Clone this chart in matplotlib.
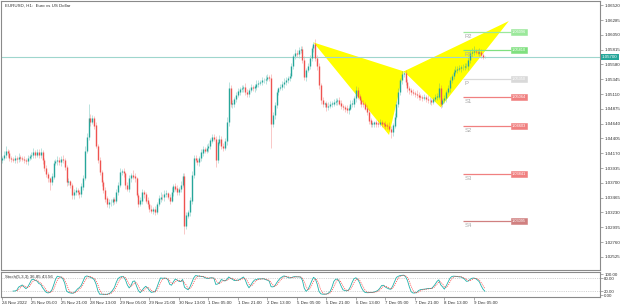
import numpy as np
import pandas as pd
import matplotlib.pyplot as plt

# ── Data (EURUSD H1) ─────────────────────────────────────────────────────────
first_open = 1.0406
closes = [
    1.0409, 1.0414, 1.0421, 1.0417, 1.0409, 1.0408, 1.0406, 1.0409, 1.0408, 1.0411,
    1.0409, 1.0408, 1.0406, 1.0404, 1.0409, 1.0412, 1.0414, 1.0418, 1.0415, 1.0418,
    1.0414, 1.0418, 1.0406, 1.0393, 1.0384, 1.0377, 1.0371, 1.0380, 1.0401, 1.0404,
    1.0406, 1.0403, 1.0408, 1.0406, 1.0395, 1.0371, 1.0372, 1.0366, 1.0350, 1.0355,
    1.0358, 1.0355, 1.0352, 1.0364, 1.0377, 1.0421, 1.0443, 1.0472, 1.0467, 1.0472,
    1.0461, 1.0429, 1.0406, 1.0387, 1.0371, 1.0358, 1.0345, 1.0336, 1.0339, 1.0340,
    1.0344, 1.0342, 1.0355, 1.0366, 1.0387, 1.0388, 1.0385, 1.0366, 1.0361, 1.0377,
    1.0382, 1.0380, 1.0377, 1.0350, 1.0337, 1.0342, 1.0355, 1.0352, 1.0342, 1.0336,
    1.0329, 1.0326, 1.0328, 1.0324, 1.0336, 1.0345, 1.0348, 1.0347, 1.0352, 1.0353,
    1.0348, 1.0342, 1.0355, 1.0364, 1.0361, 1.0356, 1.0360, 1.0366, 1.0380, 1.0302,
    1.0318, 1.0323, 1.0342, 1.0382, 1.0409, 1.0406, 1.0403, 1.0409, 1.0418, 1.0423,
    1.0421, 1.0425, 1.0428, 1.0437, 1.0442, 1.0440, 1.0406, 1.0434, 1.0440, 1.0429,
    1.0426, 1.0436, 1.0466, 1.0520, 1.0495, 1.0496, 1.0503, 1.0509, 1.0515, 1.0519,
    1.0520, 1.0522, 1.0514, 1.0511, 1.0517, 1.0522, 1.0520, 1.0523, 1.0527, 1.0528,
    1.0530, 1.0533, 1.0533, 1.0535, 1.0538, 1.0536, 1.0464, 1.0477, 1.0493, 1.0514,
    1.0520, 1.0522, 1.0527, 1.0530, 1.0533, 1.0536, 1.0539, 1.0555, 1.0571, 1.0576,
    1.0574, 1.0581, 1.0582, 1.0565, 1.0538, 1.0549, 1.0555, 1.0568, 1.0584, 1.0590,
    1.0568, 1.0555, 1.0525, 1.0501, 1.0495, 1.0496, 1.0490, 1.0492, 1.0495, 1.0496,
    1.0498, 1.0500, 1.0501, 1.0496, 1.0492, 1.0490, 1.0488, 1.0485, 1.0488, 1.0495,
    1.0496, 1.0504, 1.0517, 1.0507, 1.0501, 1.0496, 1.0495, 1.0488, 1.0482, 1.0469,
    1.0463, 1.0464, 1.0466, 1.0464, 1.0463, 1.0466, 1.0464, 1.0463, 1.0461, 1.0460,
    1.0456, 1.0450, 1.0461, 1.0474, 1.0495, 1.0514, 1.0533, 1.0543, 1.0544, 1.0530,
    1.0520, 1.0517, 1.0514, 1.0512, 1.0511, 1.0509, 1.0507, 1.0506, 1.0504, 1.0506,
    1.0503, 1.0501, 1.0501, 1.0499, 1.0503, 1.0506, 1.0507, 1.0520, 1.0496, 1.0501,
    1.0504, 1.0514, 1.0520, 1.0533, 1.0539, 1.0546, 1.0549, 1.0551, 1.0552, 1.0554,
    1.0554, 1.0555, 1.0555, 1.0565, 1.0576, 1.0578, 1.0579, 1.0578, 1.0576, 1.0578,
    1.0573, 1.0570, 1.0570,
]
# upper / lower wick length beyond the body, in pips
wick_up = [
    4, 6, 8, 3, 5, 4, 3, 5, 4, 6, 3, 4, 5, 3, 6, 4, 5, 7, 4, 6,
    5, 7, 4, 3, 5, 4, 3, 6, 5, 4, 6, 5, 4, 7, 3, 4, 5, 3, 4, 6,
    5, 4, 3, 6, 5, 8, 6, 24, 7, 5, 4, 6, 3, 5, 4, 3, 5, 4, 6, 5,
    4, 3, 6, 5, 7, 4, 5, 3, 6, 5, 4, 8, 5, 3, 4, 6, 5, 4, 3, 5,
    4, 6, 3, 5, 4, 5, 7, 4, 6, 5, 3, 5, 8, 4, 6, 5, 4, 7, 6, 5,
    6, 4, 5, 7, 6, 5, 4, 3, 6, 5, 4, 7, 5, 4, 6, 5, 4, 5, 6, 4,
    5, 6, 8, 10, 6, 5, 4, 5, 6, 4, 5, 4, 6, 5, 4, 5, 3, 4, 6, 5,
    4, 5, 3, 6, 5, 4, 7, 6, 5, 4, 3, 5, 4, 6, 5, 4, 5, 6, 4, 7,
    5, 4, 6, 5, 7, 4, 6, 5, 4, 3, 8, 5, 6, 4, 5, 3, 4, 6, 5, 4,
    5, 4, 3, 6, 5, 4, 3, 5, 4, 6, 5, 4, 7, 5, 4, 3, 5, 4, 6, 5,
    4, 5, 3, 4, 6, 5, 4, 3, 5, 4, 6, 5, 4, 7, 5, 6, 4, 5, 4, 6,
    5, 4, 3, 5, 4, 6, 5, 4, 3, 5, 4, 6, 5, 4, 3, 5, 6, 8, 5, 4,
    5, 4, 6, 5, 4, 5, 6, 4, 5, 3, 4, 6, 5, 7, 5, 6, 8, 4, 5, 6,
    4, 3, 2,
]
wick_dn = [
    5, 3, 4, 6, 4, 5, 3, 4, 6, 5, 4, 3, 5, 4, 6, 3, 4, 5, 6, 4,
    4, 5, 6, 4, 5, 6, 13, 5, 4, 3, 5, 4, 6, 5, 4, 6, 5, 4, 5, 6,
    4, 5, 6, 4, 5, 3, 4, 5, 6, 4, 5, 3, 4, 5, 6, 4, 5, 4, 6, 5,
    5, 6, 4, 5, 3, 4, 5, 6, 4, 5, 6, 4, 5, 3, 6, 4, 5, 6, 4, 5,
    5, 4, 6, 5, 4, 3, 5, 4, 6, 5, 4, 5, 3, 6, 4, 5, 6, 4, 3, 13,
    5, 4, 6, 5, 4, 3, 5, 6, 4, 5, 3, 4, 6, 5, 4, 3, 11, 5, 4, 6,
    5, 4, 6, 5, 4, 6, 5, 4, 3, 5, 4, 6, 5, 4, 5, 3, 4, 6, 5, 4,
    3, 5, 4, 6, 4, 5, 38, 6, 5, 4, 5, 3, 4, 6, 5, 4, 5, 3, 4, 5,
    4, 6, 5, 4, 5, 6, 3, 4, 5, 6, 4, 5, 6, 5, 4, 5, 6, 4, 3, 5,
    4, 5, 6, 3, 4, 5, 6, 4, 5, 3, 4, 6, 5, 4, 5, 6, 4, 3, 5, 6,
    5, 4, 6, 5, 4, 3, 5, 4, 6, 5, 4, 8, 5, 4, 3, 5, 4, 6, 5, 4,
    5, 6, 4, 3, 5, 4, 6, 5, 4, 3, 5, 4, 6, 5, 4, 3, 5, 4, 7, 5,
    4, 5, 3, 6, 5, 4, 3, 5, 4, 6, 5, 4, 3, 5, 4, 6, 5, 4, 3, 5,
    4, 3, 2,
]

time_labels = ["24 Nov 2022", "25 Nov 05:00", "25 Nov 21:00", "28 Nov 13:00",
               "29 Nov 05:00", "29 Nov 21:00", "30 Nov 13:00", "1 Dec 05:00",
               "1 Dec 21:00", "2 Dec 13:00", "5 Dec 05:00", "5 Dec 21:00",
               "6 Dec 13:00", "7 Dec 05:00", "7 Dec 21:00", "8 Dec 13:00",
               "9 Dec 05:00"]
time_label_bars = list(range(0, 257, 16))

price_ticks = [1.06520, 1.06285, 1.06050, 1.05815, 1.05580, 1.05345, 1.05110,
               1.04875, 1.04640, 1.04405, 1.04170, 1.03935, 1.03700, 1.03465,
               1.03230, 1.02995, 1.02760, 1.02525]

pivot_names = ["R2", "R1", "P", "S1", "S2", "S3", "S4"]
pivot_values = [1.06096, 1.05810, 1.05350, 1.05064, 1.04603, 1.03841, 1.03095]

# harmonic pattern points X, A, B, C, D (bar index, price)
pattern_bars = [169, 210, 218, 238, 275]
pattern_prices = [1.0593, 1.0446, 1.0547, 1.0490, 1.0627]

bid_price = 1.05700

# ── Derived OHLC + stochastic ────────────────────────────────────────────────
c = np.array(closes)
o = np.concatenate([[first_open], c[:-1]])
h = np.maximum(o, c) + np.array(wick_up) * 0.0001
l = np.minimum(o, c) - np.array(wick_dn) * 0.0001
bars = np.arange(len(c))

hh = pd.Series(h).rolling(5).max()
ll = pd.Series(l).rolling(5).min()
cs = pd.Series(c)
stoch_main = 100 * (cs - ll).rolling(3).sum() / (hh - ll).rolling(3).sum()
stoch_sig = stoch_main.rolling(3).mean()

# ── Figure ───────────────────────────────────────────────────────────────────
W, H = 625, 307
fig = plt.figure(figsize=(W / 100, H / 100), dpi=100, facecolor="white")
plt.rcParams["font.family"] = ["Liberation Sans", "DejaVu Sans"]

grey = "#8a8a8a"
txt = "#303030"
fs = 3.2
bull = "#26a69a"
bear = "#ef5350"


def px_axes(x0, y0, x1, y1):
    return fig.add_axes([x0 / W, 1 - y1 / H, (x1 - x0) / W, (y1 - y0) / H])


ax = px_axes(1, 1, 600, 270)
sx = px_axes(1, 272, 600, 297)

bar_px = 1.84
xmin = -1 / bar_px
xmax = 598 / bar_px + xmin
for a in (ax, sx):
    a.set_xlim(xmin, xmax)
    a.set_facecolor("white")
    for s in a.spines.values():
        s.set_color(grey)
        s.set_linewidth(0.8)
    a.yaxis.tick_right()
    a.tick_params(axis="y", length=2, width=0.5, color=grey, labelsize=fs,
                  labelcolor=txt, pad=1)

# price scale
ppx = 0.0001588
ax.set_ylim(1.06604 - 270 * ppx, 1.06604 - 1 * ppx)
ax.set_yticks(price_ticks)
ax.set_yticklabels([f"{v:.5f}" for v in price_ticks])
ax.set_xticks([])

# yellow harmonic pattern
px_, py_ = pattern_bars, pattern_prices
ax.fill([px_[0], px_[1], px_[2]], [py_[0], py_[1], py_[2]],
        color="#ffff00", lw=0, zorder=1)
ax.fill([px_[2], px_[3], px_[4]], [py_[2], py_[3], py_[4]],
        color="#ffff00", lw=0, zorder=1)

# candles
cols = np.where(c >= o, bull, bear)
ax.vlines(bars, l, h, colors=cols, lw=0.5, alpha=0.45, zorder=2)
ax.vlines(bars, np.minimum(o, c), np.maximum(o, c) + 0.00003,
          colors=cols, lw=1.0, zorder=3)

# bid line + label
ax.axhline(bid_price, color="#9fd6cd", lw=0.8, zorder=2.5)
ax.text(1.003, bid_price, f"{bid_price:.5f}", transform=ax.get_yaxis_transform(),
        fontsize=fs, color="white", va="center", ha="left", clip_on=False,
        bbox=dict(boxstyle="square,pad=0.25", fc="#26a69a", ec="none"), zorder=6)

# pivot levels
pcol = {"R2": "#9be89b", "R1": "#7fe07f", "P": "#d9d9d9",
        "S1": "#f08080", "S2": "#f08080", "S3": "#f08080", "S4": "#d08080"}
p_start, p_end = 250.3, 276.0
for name, val in zip(pivot_names, pivot_values):
    colr = pcol[name]
    ax.hlines(val, p_start, p_end, color=colr, lw=0.9, zorder=4)
    ax.text(p_start + 0.5, val - 0.0003, name, fontsize=4.2, color="#a8a8a8",
            va="top", ha="left", zorder=5)
    ax.text(p_end + 0.6, val, f"{val:.5f}", fontsize=fs - 0.4, color="white",
            va="center", ha="left", zorder=5,
            bbox=dict(boxstyle="square,pad=0.25", fc=colr, ec=colr, lw=0.4))

ax.text(2.5 / bar_px, 1.06604 - 6 * ppx, "EURUSD, H1:  Euro vs US Dollar",
        fontsize=fs, color=txt, va="center", ha="left")

# stochastic panel
sx.set_ylim(-8, 110)
sx.plot(bars, stoch_main, color="#20b2aa", lw=0.6, zorder=3)
sx.plot(bars, stoch_sig, color="#ff3030", lw=0.5, ls=(0, (1.5, 1.5)), zorder=3)
for lev in (20, 80):
    sx.axhline(lev, color="#b0b0b0", lw=0.4, ls=(0, (2, 2)))
sx.set_yticks([100, 80, 20, 0])
sx.set_yticklabels(["100.00", "80.00", "20.00", "0.00"])
sx.text(2.5 / bar_px, 88, "Stoch(5,3,3) 36.85 43.56", fontsize=fs, color=txt,
        va="center", ha="left")
sx.set_xticks(time_label_bars)
sx.set_xticklabels(time_labels, ha="left", fontsize=fs, color=txt)
sx.tick_params(axis="x", length=2, width=0.5, color=grey, pad=1)

fig.savefig("out.png", dpi=100, facecolor="white")
